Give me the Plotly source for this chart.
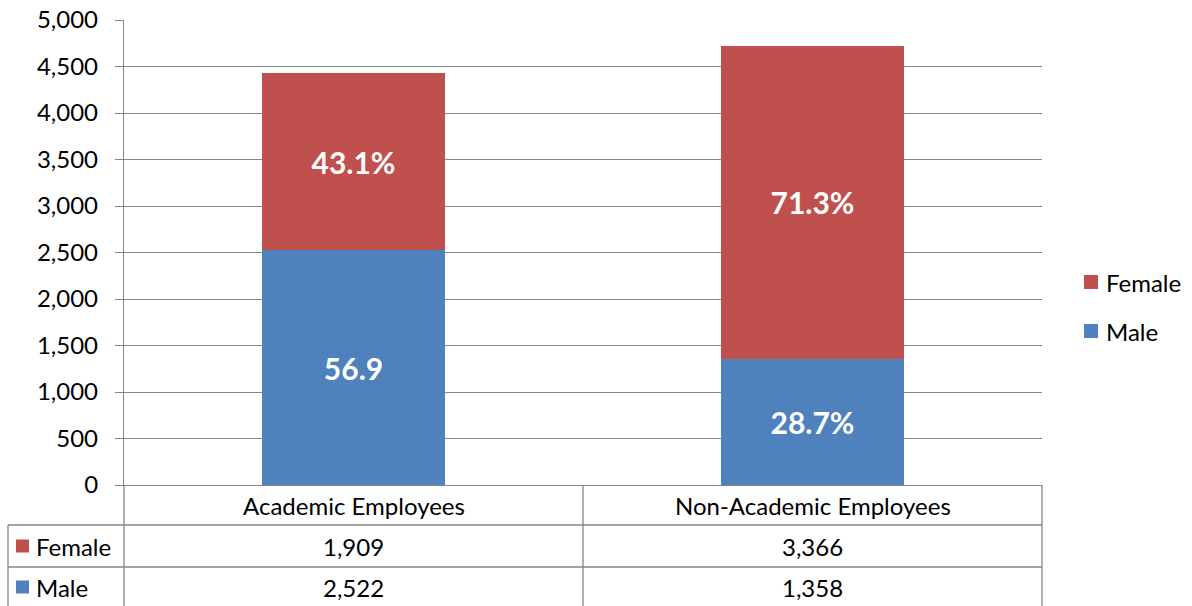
import plotly.graph_objects as go

categories = ["Academic Employees", "Non-Academic Employees"]
female = [1909, 3366]
male = [2522, 1358]
female_labels = ["43.1%", "71.3%"]
male_labels = ["56.9", "28.7%"]
y_ticks = [0, 500, 1000, 1500, 2000, 2500, 3000, 3500, 4000, 4500, 5000]

RED = "#C0504D"
BLUE = "#4F81BD"
GRID = "#868686"
FONT = "Lato"
FS = 24
LFS = 30

W, H = 1192, 606
L, R, T, B = 124, 1042, 20, 485  # plot area in pixels

def px(x):
    return (x - L) / (R - L)

def py(y):
    return (B - y) / (B - T)

fig = go.Figure()
fig.add_trace(go.Bar(
    x=categories, y=male, name="Male", marker_color=BLUE, width=0.4,
    text=male_labels, textposition="inside", insidetextanchor="middle",
    textfont=dict(family=FONT, size=LFS, color="white", weight="bold"),
    hoverinfo="x+y+name",
))
fig.add_trace(go.Bar(
    x=categories, y=female, name="Female", marker_color=RED, width=0.4,
    text=female_labels, textposition="inside", insidetextanchor="middle",
    textfont=dict(family=FONT, size=LFS, color="white", weight="bold"),
    hoverinfo="x+y+name",
))

shapes = []
annotations = []
line = dict(color=GRID, width=1.3)

col_x = [8, 124, 583, 1042]

for y in [525, 567]:
    shapes.append(dict(type="line", xref="paper", yref="paper",
                       x0=px(8), x1=px(1042), y0=py(y), y1=py(y), line=line))
shapes.append(dict(type="line", xref="paper", yref="paper",
                   x0=px(8), x1=px(8), y0=py(525), y1=py(606), line=line))
for x in [124, 583, 1042]:
    shapes.append(dict(type="line", xref="paper", yref="paper",
                       x0=px(x), x1=px(x), y0=py(485), y1=py(606), line=line))

for i, c in enumerate(categories):
    cx = (col_x[i + 1] + col_x[i + 2]) / 2
    annotations.append(dict(text=c, x=px(cx), y=py(505), xref="paper", yref="paper",
                            showarrow=False, xanchor="center", yanchor="middle",
                            font=dict(family=FONT, size=FS, color="#000000")))

rows = [("Female", female, RED, 546), ("Male", male, BLUE, 587)]
for name, vals, col, yc in rows:
    shapes.append(dict(type="rect", xref="paper", yref="paper",
                       x0=px(16), x1=px(29), y0=py(yc - 6.5), y1=py(yc + 6.5),
                       fillcolor=col, line=dict(width=0)))
    annotations.append(dict(text=name, x=px(34), y=py(yc), xref="paper", yref="paper",
                            showarrow=False, xanchor="left", yanchor="middle",
                            font=dict(family=FONT, size=FS, color="#000000")))
    for i, v in enumerate(vals):
        cx = (col_x[i + 1] + col_x[i + 2]) / 2
        annotations.append(dict(text=f"{v:,}", x=px(cx), y=py(yc), xref="paper", yref="paper",
                                showarrow=False, xanchor="center", yanchor="middle",
                                font=dict(family=FONT, size=FS, color="#000000")))

leg = [("Female", RED, 282), ("Male", BLUE, 331)]
for name, col, yc in leg:
    shapes.append(dict(type="rect", xref="paper", yref="paper",
                       x0=px(1084), x1=px(1098), y0=py(yc - 7), y1=py(yc + 7),
                       fillcolor=col, line=dict(width=0)))
    annotations.append(dict(text=name, x=px(1104), y=py(yc), xref="paper", yref="paper",
                            showarrow=False, xanchor="left", yanchor="middle",
                            font=dict(family=FONT, size=FS, color="#000000")))

fig.update_layout(
    template="none",
    barmode="stack",
    width=W, height=H,
    margin=dict(l=L, r=W - R, t=T, b=H - B, pad=0, autoexpand=False),
    paper_bgcolor="white", plot_bgcolor="white",
    showlegend=False,
    shapes=shapes, annotations=annotations,
    uniformtext=dict(mode="show", minsize=10),
    font=dict(family=FONT, color="#000000"),
)
fig.update_xaxes(
    type="category", range=[-0.5, 1.5], showticklabels=False, ticks="",
    showline=True, linecolor=GRID, linewidth=1.3, showgrid=False, zeroline=False,
    automargin=False,
)
fig.update_yaxes(
    range=[0, 5000], tickvals=y_ticks, tickformat=",",
    ticks="outside", ticklen=8, tickcolor=GRID, tickwidth=1.3,
    showline=True, linecolor=GRID, linewidth=1.3,
    showgrid=True, gridcolor=GRID, gridwidth=1.3, zeroline=False,
    tickfont=dict(family=FONT, size=FS, color="#000000"),
    ticklabelstandoff=12, automargin=False,
)

fig.write_html("out.html", config={"displayModeBar": False},
               post_script="document.body.style.margin='0';")
